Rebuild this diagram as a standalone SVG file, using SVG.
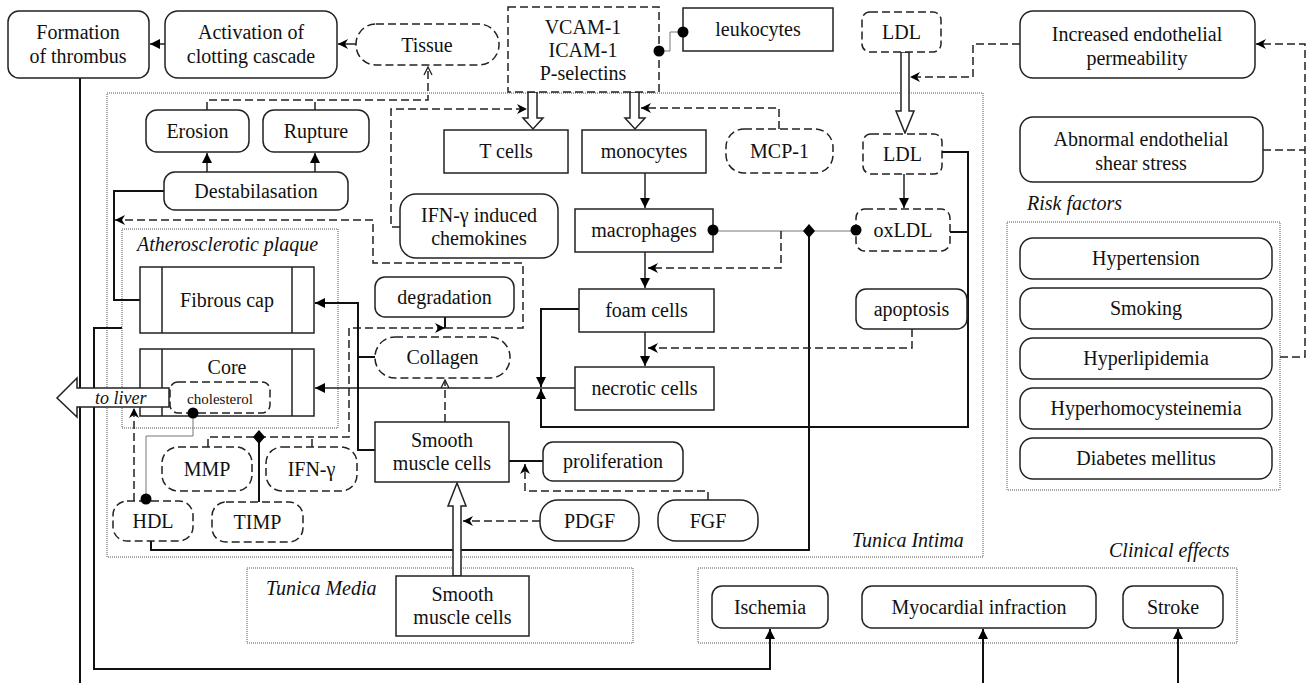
<svg xmlns="http://www.w3.org/2000/svg" width="1312" height="683" viewBox="0 0 1312 683">
<style>
.box{fill:#fff;stroke:#222;stroke-width:1.5}
.dbox{fill:#fff;stroke:#222;stroke-width:1.5;stroke-dasharray:8 4}
.zone{fill:none;stroke:#555;stroke-width:1;stroke-dasharray:1 1}
.t{font-family:"Liberation Serif","Times New Roman",serif;font-size:20px;fill:#111;text-anchor:middle}
.it{font-style:italic;text-anchor:start}
.sm{font-size:15px}
.ln{fill:none;stroke:#111;stroke-width:2}
.md{fill:none;stroke:#222;stroke-width:1.5}
.thin{fill:none;stroke:#777;stroke-width:1}
.dl{fill:none;stroke:#222;stroke-width:1.5;stroke-dasharray:8 4}
.hol{fill:#fff;stroke:#222;stroke-width:1.5}
.dot{fill:#000}
</style>
<defs>
<marker id="arr" viewBox="0 0 10 10" refX="10" refY="5" markerWidth="10" markerHeight="10" markerUnits="userSpaceOnUse" orient="auto"><path d="M0,0 L10,5 L0,10 z" fill="#000"/></marker>
<marker id="st" viewBox="0 0 10 10" refX="10" refY="5" markerWidth="10" markerHeight="10" markerUnits="userSpaceOnUse" orient="auto"><path d="M0,0 L10,5 L0,10 L3,5 z" fill="#000"/></marker>
<marker id="open" viewBox="0 0 10 10" refX="9" refY="5" markerWidth="10" markerHeight="10" markerUnits="userSpaceOnUse" orient="auto"><path d="M1,1 L9,5 L1,9" fill="none" stroke="#222" stroke-width="1.3"/></marker>
</defs>

<g id="zones">
<rect class="zone" x="107" y="93" width="876" height="464"/>
<text class="t it" x="852" y="547">Tunica Intima</text>
<rect class="zone" x="122" y="229" width="216" height="199"/>
<text class="t it" x="137" y="251">Atherosclerotic plaque</text>
<rect class="zone" x="1007" y="222" width="273" height="268"/>
<text class="t it" x="1027" y="210">Risk factors</text>
<rect class="zone" x="247" y="568" width="386" height="75"/>
<text class="t it" x="266" y="595">Tunica Media</text>
<rect class="zone" x="698" y="568" width="539" height="75"/>
<text class="t it" x="1109" y="557">Clinical effects</text>
</g>

<g id="connectors">
<path class="ln" d="M80,78 V683"/>
<path class="md" d="M165,44 H150" marker-end="url(#arr)"/>
<path class="md" d="M356,44 H338" marker-end="url(#st)"/>
<path class="dl" d="M207,110 V100 H428 V67" marker-end="url(#open)"/>
<path class="dl" d="M315,110 V100"/>
<path class="md" d="M207,172 V153" marker-end="url(#arr)"/>
<path class="md" d="M315,172 V153" marker-end="url(#arr)"/>
<path class="ln" d="M140,300 H114 V191 H164"/>
<path class="dl" d="M445,328 H523 V263 H373 V220 H115" marker-end="url(#st)"/>
<path class="dl" d="M208,447 V437 H349 V328 H445" marker-end="url(#st)"/>
<path class="dl" d="M312,447 V437"/>
<path class="ln" d="M445,317 V328"/>
<path class="ln" d="M259,502 V437"/>
<polygon points="259,430 265,437 259,444 253,437" fill="#000"/>
<path class="dl" d="M400,227 H391 V109 H527" marker-end="url(#st)"/>
<path class="dl" d="M779,129 V108 H641" marker-end="url(#st)"/>
<path class="dl" d="M1020,44 H973 V77 H910" marker-end="url(#st)"/>
<path class="dl" d="M1280,357 H1305 V44 H1256" marker-end="url(#st)"/>
<path class="dl" d="M1263,150 H1305"/>
<path class="thin" d="M659,51 H670 V32 H683"/>
<polygon class="hol" points="528,92 537,92 537,118 543,118 533,129 523,118 528,118"/>
<polygon class="hol" points="630,92 639,92 639,118 645,118 635,129 625,118 630,118"/>
<polygon class="hol" points="901,52 909,52 909,111 914,111 905,133 896,111 901,111"/>
<path class="md" d="M904,174 V208" marker-end="url(#arr)"/>
<path class="md" d="M645,173 V208" marker-end="url(#arr)"/>
<path class="md" d="M645,252 V288" marker-end="url(#arr)"/>
<path class="md" d="M645,332 V366" marker-end="url(#arr)"/>
<path class="thin" d="M713,231 H856"/>
<path class="dl" d="M781,231 V268 H648" marker-end="url(#st)"/>
<path class="ln" d="M809,231 V550 H151 V541"/>
<polygon points="809,224 815,231 809,238 803,231" fill="#000"/>
<path class="dl" d="M912,329 V348 H648" marker-end="url(#st)"/>
<path class="ln" d="M942,152 H968 V427 H541 V389" marker-end="url(#arr)"/>
<path class="ln" d="M950,232 H968"/>
<path class="ln" d="M579,309 H541 V387" marker-end="url(#arr)"/>
<path class="md" d="M575,388 H315" marker-end="url(#arr)"/>
<path class="ln" d="M375,450 H358 V303 H315" marker-end="url(#arr)"/>
<path class="ln" d="M375,357 H358"/>
<path class="dl" d="M445,422 V380" marker-end="url(#open)"/>
<path class="thin" d="M193,413 V436 H146 V499"/>
<path class="dl" d="M134,501 V408" marker-end="url(#st)"/>
<path class="ln" d="M509,461 H543"/>
<path class="dl" d="M708,500 V491 H525 V464" marker-end="url(#st)"/>
<path class="dl" d="M540,521 H463" marker-end="url(#st)"/>
<polygon class="hol" points="453,576 461,576 461,506 466,506 457,483 448,506 453,506"/>
<path class="ln" d="M122,328 H94 V669 H770 V629" marker-end="url(#arr)"/>
<path class="ln" d="M983,683 V629" marker-end="url(#arr)"/>
<path class="ln" d="M1178,683 V629" marker-end="url(#arr)"/>
</g>

<g id="formation"><rect class="box" x="8" y="11" width="141" height="67" rx="11"/><text class="t" x="78" y="39">Formation</text><text class="t" x="78" y="63">of thrombus</text></g>
<g id="activation"><rect class="box" x="165" y="11" width="172" height="67" rx="13"/><text class="t" x="251" y="39">Activation of</text><text class="t" x="251" y="63">clotting cascade</text></g>
<g id="tissue"><rect class="dbox" x="356" y="24" width="143" height="41" rx="20"/><text class="t" x="427" y="52">Tissue</text></g>
<g id="vcam"><rect class="dbox" x="508" y="7" width="151" height="85"/><text class="t" x="583" y="34">VCAM-1</text><text class="t" x="583" y="57">ICAM-1</text><text class="t" x="583" y="80">P-selectins</text></g>
<g id="leukocytes"><rect class="box" x="683" y="8" width="150" height="43"/><text class="t" x="758" y="36">leukocytes</text></g>
<g id="ldl1"><rect class="dbox" x="862" y="12" width="79" height="40" rx="8"/><text class="t" x="901.5" y="39">LDL</text></g>
<g id="increased"><rect class="box" x="1020" y="11" width="235" height="67" rx="13"/><text class="t" x="1137" y="41">Increased endothelial</text><text class="t" x="1137" y="65">permeability</text></g>
<g id="abnormal"><rect class="box" x="1020" y="117" width="243" height="65" rx="13"/><text class="t" x="1141" y="146">Abnormal endothelial</text><text class="t" x="1141" y="170">shear stress</text></g>
<g id="risk1"><rect class="box" x="1020" y="238" width="252" height="41" rx="13"/><text class="t" x="1146" y="265">Hypertension</text></g>
<g id="risk2"><rect class="box" x="1020" y="288" width="252" height="41" rx="13"/><text class="t" x="1146" y="315">Smoking</text></g>
<g id="risk3"><rect class="box" x="1020" y="338" width="252" height="41" rx="13"/><text class="t" x="1146" y="365">Hyperlipidemia</text></g>
<g id="risk4"><rect class="box" x="1020" y="388" width="252" height="41" rx="13"/><text class="t" x="1146" y="415">Hyperhomocysteinemia</text></g>
<g id="risk5"><rect class="box" x="1020" y="438" width="252" height="41" rx="13"/><text class="t" x="1146" y="465">Diabetes mellitus</text></g>
<g id="erosion"><rect class="box" x="146" y="110" width="103" height="42" rx="11"/><text class="t" x="197.5" y="138">Erosion</text></g>
<g id="rupture"><rect class="box" x="263" y="110" width="106" height="42" rx="11"/><text class="t" x="316" y="138">Rupture</text></g>
<g id="destab"><rect class="box" x="164" y="172" width="184" height="38" rx="11"/><text class="t" x="256" y="198">Destabilasation</text></g>
<g id="tcells"><rect class="box" x="444" y="130" width="124" height="43"/><text class="t" x="506" y="158">T cells</text></g>
<g id="monocytes"><rect class="box" x="582" y="130" width="124" height="43"/><text class="t" x="644" y="158">monocytes</text></g>
<g id="mcp1"><rect class="dbox" x="726" y="129" width="107" height="44" rx="18"/><text class="t" x="779.5" y="158">MCP-1</text></g>
<g id="ldl2"><rect class="dbox" x="863" y="134" width="79" height="40" rx="8"/><text class="t" x="902.5" y="161">LDL</text></g>
<g id="chemokines"><rect class="box" x="400" y="194" width="158" height="64" rx="16"/><text class="t" x="479" y="222">IFN-γ induced</text><text class="t" x="479" y="245">chemokines</text></g>
<g id="macrophages"><rect class="box" x="575" y="209" width="138" height="43"/><text class="t" x="644" y="237">macrophages</text></g>
<g id="oxldl"><rect class="dbox" x="856" y="209" width="94" height="42" rx="9"/><text class="t" x="903" y="237">oxLDL</text></g>
<g id="fibrous"><rect class="box" x="140" y="267" width="174" height="66"/><path class="md" d="M162,267 V333 M292,267 V333"/><text class="t" x="227" y="307">Fibrous cap</text></g>
<g id="core"><rect class="box" x="140" y="349" width="174" height="67"/><path class="md" d="M162,349 V416 M292,349 V416"/><text class="t" x="227" y="374">Core</text></g>
<g id="cholesterol"><rect class="dbox" x="170" y="382" width="100" height="31" rx="8"/><text class="t sm" x="220" y="404">cholesterol</text></g>
<g id="toliver"><polygon class="hol" points="169,388 77,388 77,378 57,398 77,417 77,407 169,407"/><text class="t it" x="95" y="404" style="font-size:18px">to liver</text></g>
<g id="degradation"><rect class="box" x="375" y="277" width="139" height="40" rx="10"/><text class="t" x="444.5" y="304">degradation</text></g>
<g id="collagen"><rect class="dbox" x="375" y="337" width="135" height="41" rx="20"/><text class="t" x="442.5" y="364">Collagen</text></g>
<g id="foam"><rect class="box" x="579" y="289" width="135" height="43"/><text class="t" x="646.5" y="317">foam cells</text></g>
<g id="necrotic"><rect class="box" x="575" y="367" width="139" height="43"/><text class="t" x="644.5" y="395">necrotic cells</text></g>
<g id="apoptosis"><rect class="box" x="856" y="289" width="111" height="40" rx="10"/><text class="t" x="911.5" y="316">apoptosis</text></g>
<g id="smc1"><rect class="box" x="375" y="422" width="134" height="60"/><text class="t" x="442" y="447">Smooth</text><text class="t" x="442" y="470">muscle cells</text></g>
<g id="proliferation"><rect class="box" x="543" y="442" width="140" height="39" rx="10"/><text class="t" x="613" y="468">proliferation</text></g>
<g id="mmp"><rect class="dbox" x="162" y="447" width="90" height="44" rx="16"/><text class="t" x="207" y="476">MMP</text></g>
<g id="ifng"><rect class="dbox" x="266" y="447" width="91" height="44" rx="16"/><text class="t" x="311.5" y="476">IFN-γ</text></g>
<g id="hdl"><rect class="dbox" x="113" y="501" width="80" height="40" rx="14"/><text class="t" x="153" y="528">HDL</text></g>
<g id="timp"><rect class="dbox" x="212" y="502" width="91" height="40" rx="14"/><text class="t" x="257.5" y="529">TIMP</text></g>
<g id="pdgf"><rect class="box" x="540" y="500" width="99" height="41" rx="18"/><text class="t" x="589.5" y="528">PDGF</text></g>
<g id="fgf"><rect class="box" x="658" y="500" width="100" height="41" rx="18"/><text class="t" x="708" y="528">FGF</text></g>
<g id="smc2"><rect class="box" x="396" y="576" width="133" height="60"/><text class="t" x="462.5" y="601">Smooth</text><text class="t" x="462.5" y="624">muscle cells</text></g>
<g id="ischemia"><rect class="box" x="712" y="586" width="116" height="42" rx="10"/><text class="t" x="770" y="614">Ischemia</text></g>
<g id="myocardial"><rect class="box" x="862" y="586" width="234" height="42" rx="10"/><text class="t" x="979" y="614">Myocardial infraction</text></g>
<g id="stroke"><rect class="box" x="1123" y="586" width="100" height="42" rx="10"/><text class="t" x="1173" y="614">Stroke</text></g>

<g id="connector-ends">
<circle class="dot" cx="659" cy="51" r="5.5"/>
<circle class="dot" cx="683" cy="32" r="5.5"/>
<circle class="dot" cx="713" cy="230" r="5.5"/>
<circle class="dot" cx="856" cy="230" r="5.5"/>
<circle class="dot" cx="193" cy="413" r="5.5"/>
<circle class="dot" cx="146" cy="499" r="5.5"/>
</g>
</svg>
